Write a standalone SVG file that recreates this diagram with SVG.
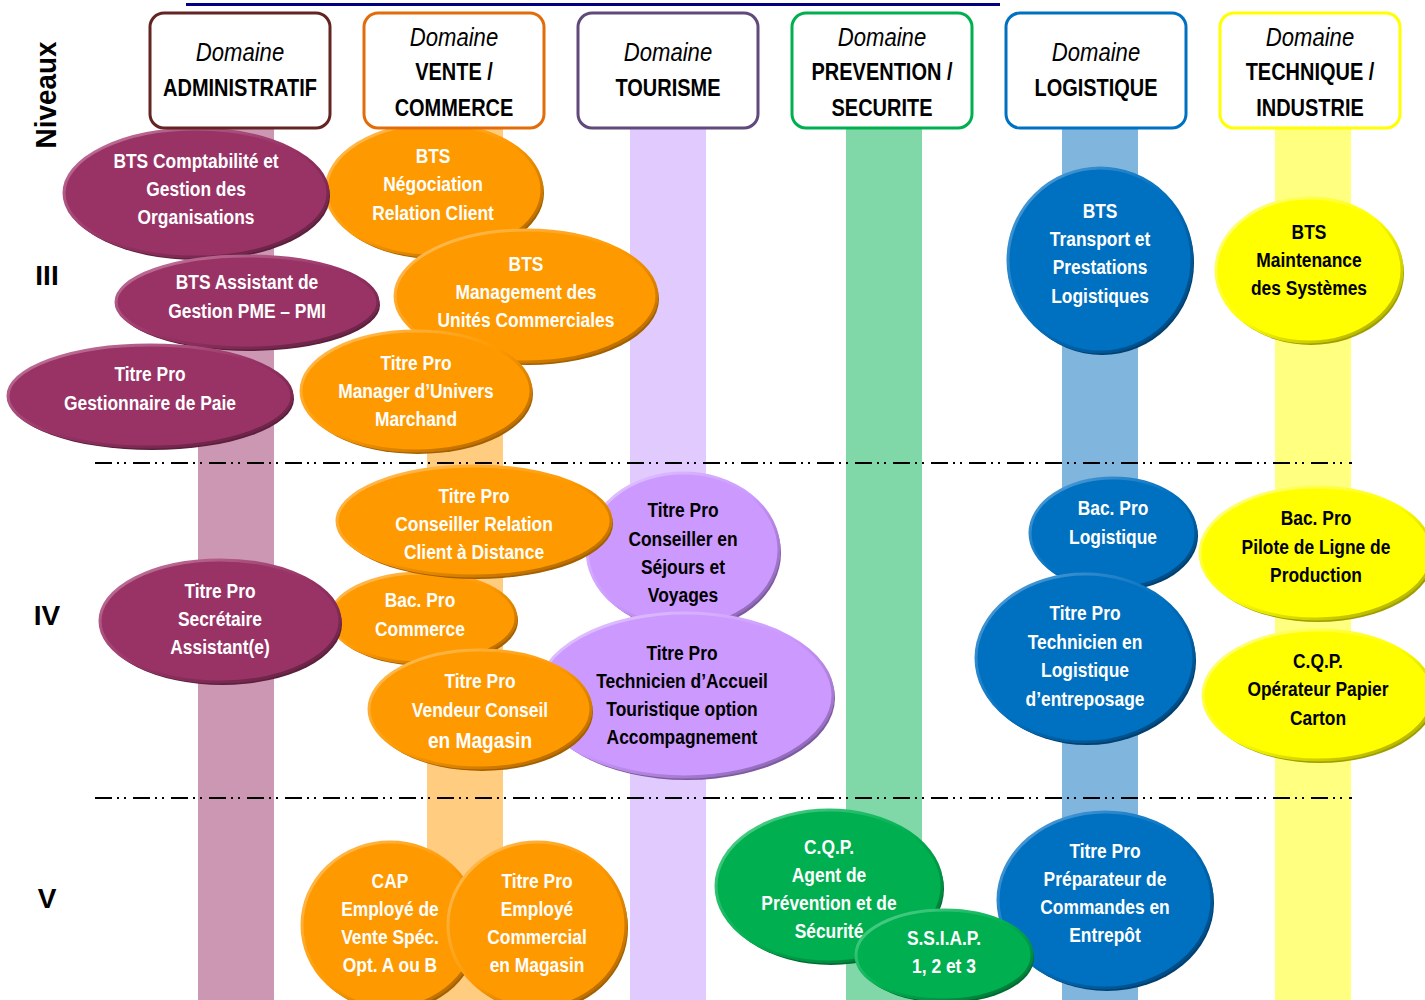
<svg xmlns="http://www.w3.org/2000/svg" width="1425" height="1000" viewBox="0 0 1425 1000">
<defs>
<style>
.n{font-family:"Liberation Sans Narrow","Liberation Sans",Arial,sans-serif;font-weight:bold;font-size:20px;text-anchor:middle;fill:#fff;transform-box:fill-box;transform-origin:center;transform:scaleX(0.87)}
.k{fill:#000}
.hd{font-family:"Liberation Sans",Arial,sans-serif;text-anchor:middle;fill:#000;transform-box:fill-box;transform-origin:center;transform:scaleX(0.85)}
.hi{font-style:italic;font-size:26px}
.hb{font-weight:bold;font-size:23.5px}
.lv{font-family:"Liberation Sans",Arial,sans-serif;font-weight:bold;font-size:28px;text-anchor:middle;fill:#000}
.box{fill:#fff;stroke-width:3}
.dl{stroke:#000;stroke-width:2;stroke-dasharray:17 5 2 5 2 7;fill:none}
.plum{fill:#993366;stroke:url(#gPlum);stroke-width:3}
.splum{fill:#5c1f3d}
.org{fill:#ff9900;stroke:url(#gOrg);stroke-width:3}
.sorg{fill:#a35f00}
.pur{fill:#cc99ff;stroke:url(#gPur);stroke-width:3}
.spur{fill:#7d5aa0}
.grn{fill:#00b050;stroke:url(#gGrn);stroke-width:3}
.sgrn{fill:#006b30}
.blu{fill:#0070c0;stroke:url(#gBlu);stroke-width:3}
.sblu{fill:#003f70}
.yel{fill:#ffff00;stroke:url(#gYel);stroke-width:3}
.syel{fill:#9e9e00}
</style>
<linearGradient id="gPlum" x1="0" y1="0" x2="1" y2="1"><stop offset="0" stop-color="#c77fa3"/><stop offset="0.5" stop-color="#993366"/><stop offset="1" stop-color="#5c1f3d"/></linearGradient>
<linearGradient id="gOrg" x1="0" y1="0" x2="1" y2="1"><stop offset="0" stop-color="#ffc266"/><stop offset="0.5" stop-color="#ff9900"/><stop offset="1" stop-color="#a35f00"/></linearGradient>
<linearGradient id="gPur" x1="0" y1="0" x2="1" y2="1"><stop offset="0" stop-color="#e3c9ff"/><stop offset="0.5" stop-color="#cc99ff"/><stop offset="1" stop-color="#7d5aa0"/></linearGradient>
<linearGradient id="gGrn" x1="0" y1="0" x2="1" y2="1"><stop offset="0" stop-color="#5fd394"/><stop offset="0.5" stop-color="#00b050"/><stop offset="1" stop-color="#006b30"/></linearGradient>
<linearGradient id="gBlu" x1="0" y1="0" x2="1" y2="1"><stop offset="0" stop-color="#5ea3da"/><stop offset="0.5" stop-color="#0070c0"/><stop offset="1" stop-color="#003f70"/></linearGradient>
<linearGradient id="gYel" x1="0" y1="0" x2="1" y2="1"><stop offset="0" stop-color="#ffff99"/><stop offset="0.5" stop-color="#ffff00"/><stop offset="1" stop-color="#9e9e00"/></linearGradient>
</defs>
<rect width="1425" height="1000" fill="#fff"/>
<line x1="186" y1="4.5" x2="1000" y2="4.5" stroke="#000080" stroke-width="3"/>

<g id="bands">
<rect x="198" y="128" width="76" height="872" fill="#cc97b3"/>
<rect x="427" y="128" width="76" height="872" fill="#ffcc80"/>
<rect x="630" y="128" width="76" height="872" fill="#e1cbfe"/>
<rect x="846" y="128" width="76" height="872" fill="#80d8a8"/>
<rect x="1062" y="128" width="76" height="872" fill="#80b6de"/>
<rect x="1275" y="128" width="76" height="872" fill="#ffff80"/>
</g>

<g id="levels">
<text class="lv" x="0" y="10" transform="translate(46 95) rotate(-90) scale(0.93 1)" style="font-size:30px">Niveaux</text>
<text class="lv" x="47" y="285">III</text>
<text class="lv" x="47" y="625">IV</text>
<text class="lv" x="47" y="908">V</text>
<line class="dl" x1="95" y1="463" x2="1352" y2="463"/>
<line class="dl" x1="95" y1="798" x2="1352" y2="798"/>
</g>

<g id="n-bts-nrc"><ellipse class="sorg" cx="436" cy="193" rx="108" ry="66"/><ellipse class="org" cx="434" cy="190" rx="108" ry="66"/>
<text class="n"><tspan x="433" y="163">BTS</tspan><tspan x="433" y="191">Négociation</tspan><tspan x="433" y="220">Relation Client</tspan></text></g>

<g id="n-bts-cgo"><ellipse class="splum" cx="198" cy="196" rx="132" ry="64"/><ellipse class="plum" cx="196" cy="193" rx="132" ry="64"/>
<text class="n"><tspan x="196" y="168">BTS Comptabilité et</tspan><tspan x="196" y="196">Gestion des</tspan><tspan x="196" y="224">Organisations</tspan></text></g>

<g id="n-bts-agpme"><ellipse class="splum" cx="249" cy="305" rx="131" ry="46"/><ellipse class="plum" cx="247" cy="302" rx="131" ry="46"/>
<text class="n"><tspan x="247" y="289">BTS Assistant de</tspan><tspan x="247" y="318">Gestion PME – PMI</tspan></text></g>

<g id="n-tp-paie"><ellipse class="splum" cx="152" cy="399" rx="142" ry="51"/><ellipse class="plum" cx="150" cy="396" rx="142" ry="51"/>
<text class="n"><tspan x="150" y="381">Titre Pro</tspan><tspan x="150" y="410">Gestionnaire de Paie</tspan></text></g>

<g id="n-bts-muc"><ellipse class="sorg" cx="528" cy="299" rx="131" ry="66"/><ellipse class="org" cx="526" cy="296" rx="131" ry="66"/>
<text class="n"><tspan x="526" y="271">BTS</tspan><tspan x="526" y="299">Management des</tspan><tspan x="526" y="327">Unités Commerciales</tspan></text></g>

<g id="n-tp-mum"><ellipse class="sorg" cx="418" cy="394" rx="115" ry="60"/><ellipse class="org" cx="416" cy="391" rx="115" ry="60"/>
<text class="n"><tspan x="416" y="370">Titre Pro</tspan><tspan x="416" y="398">Manager d’Univers</tspan><tspan x="416" y="426">Marchand</tspan></text></g>

<g id="n-tp-csv"><ellipse class="spur" cx="685" cy="553" rx="96" ry="77"/><ellipse class="pur" cx="683" cy="550" rx="96" ry="77"/>
<text class="n k"><tspan x="683" y="517">Titre Pro</tspan><tspan x="683" y="546">Conseiller en</tspan><tspan x="683" y="574">Séjours et</tspan><tspan x="683" y="602">Voyages</tspan></text></g>

<g id="n-tp-tat"><ellipse class="spur" cx="687" cy="698" rx="148" ry="82"/><ellipse class="pur" cx="685" cy="695" rx="148" ry="82"/>
<text class="n k"><tspan x="682" y="660">Titre Pro</tspan><tspan x="682" y="688">Technicien d’Accueil</tspan><tspan x="682" y="716">Touristique option</tspan><tspan x="682" y="744">Accompagnement</tspan></text></g>

<g id="n-bac-com"><ellipse class="sorg" cx="425" cy="621" rx="93" ry="45"/><ellipse class="org" cx="423" cy="618" rx="93" ry="45"/>
<text class="n"><tspan x="420" y="607">Bac. Pro</tspan><tspan x="420" y="636">Commerce</tspan></text></g>

<g id="n-tp-crcd"><ellipse class="sorg" cx="476" cy="524" rx="137" ry="55"/><ellipse class="org" cx="474" cy="521" rx="137" ry="55"/>
<text class="n"><tspan x="474" y="503">Titre Pro</tspan><tspan x="474" y="531">Conseiller Relation</tspan><tspan x="474" y="559">Client à Distance</tspan></text></g>

<g id="n-tp-vcm"><ellipse class="sorg" cx="482" cy="712" rx="111" ry="59"/><ellipse class="org" cx="480" cy="709" rx="111" ry="59"/>
<text class="n"><tspan x="480" y="688">Titre Pro</tspan><tspan x="480" y="717">Vendeur Conseil</tspan><tspan x="480" y="748" style="font-size:22px">en Magasin</tspan></text></g>

<g id="n-tp-sec"><ellipse class="splum" cx="222" cy="624" rx="120" ry="61"/><ellipse class="plum" cx="220" cy="621" rx="120" ry="61"/>
<text class="n"><tspan x="220" y="598">Titre Pro</tspan><tspan x="220" y="626">Secrétaire</tspan><tspan x="220" y="654">Assistant(e)</tspan></text></g>

<g id="n-cap-evs"><ellipse class="sorg" cx="392" cy="928" rx="88" ry="83"/><ellipse class="org" cx="390" cy="925" rx="88" ry="83"/>
<text class="n"><tspan x="390" y="888">CAP</tspan><tspan x="390" y="916">Employé de</tspan><tspan x="390" y="944">Vente Spéc.</tspan><tspan x="390" y="972">Opt. A ou B</tspan></text></g>

<g id="n-tp-ecm"><ellipse class="sorg" cx="539" cy="928" rx="89" ry="83"/><ellipse class="org" cx="537" cy="925" rx="89" ry="83"/>
<text class="n"><tspan x="537" y="888">Titre Pro</tspan><tspan x="537" y="916">Employé</tspan><tspan x="537" y="944">Commercial</tspan><tspan x="537" y="972">en Magasin</tspan></text></g>

<g id="n-cqp-aps"><ellipse class="sgrn" cx="831" cy="889" rx="113" ry="76"/><ellipse class="grn" cx="829" cy="886" rx="113" ry="76"/>
<text class="n"><tspan x="829" y="854">C.Q.P.</tspan><tspan x="829" y="882">Agent de</tspan><tspan x="829" y="910">Prévention et de</tspan><tspan x="829" y="938">Sécurité</tspan></text></g>

<g id="n-tp-pce"><ellipse class="sblu" cx="1107" cy="903" rx="107" ry="88"/><ellipse class="blu" cx="1105" cy="900" rx="107" ry="88"/>
<text class="n"><tspan x="1105" y="858">Titre Pro</tspan><tspan x="1105" y="886">Préparateur de</tspan><tspan x="1105" y="914">Commandes en</tspan><tspan x="1105" y="942">Entrepôt</tspan></text></g>

<g id="n-ssiap"><ellipse class="sgrn" cx="946" cy="958" rx="88" ry="45"/><ellipse class="grn" cx="944" cy="955" rx="88" ry="45"/>
<text class="n"><tspan x="944" y="945">S.S.I.A.P.</tspan><tspan x="944" y="973">1, 2 et 3</tspan></text></g>

<g id="n-bts-tpl"><ellipse class="sblu" cx="1102" cy="263" rx="92" ry="92"/><ellipse class="blu" cx="1100" cy="260" rx="92" ry="92"/>
<text class="n"><tspan x="1100" y="218">BTS</tspan><tspan x="1100" y="246">Transport et</tspan><tspan x="1100" y="274">Prestations</tspan><tspan x="1100" y="303">Logistiques</tspan></text></g>

<g id="n-bac-log"><ellipse class="sblu" cx="1115" cy="536" rx="83" ry="55"/><ellipse class="blu" cx="1113" cy="533" rx="83" ry="55"/>
<text class="n"><tspan x="1113" y="515">Bac. Pro</tspan><tspan x="1113" y="544">Logistique</tspan></text></g>

<g id="n-tp-tle"><ellipse class="sblu" cx="1087" cy="661" rx="109" ry="84"/><ellipse class="blu" cx="1085" cy="658" rx="109" ry="84"/>
<text class="n"><tspan x="1085" y="620">Titre Pro</tspan><tspan x="1085" y="649">Technicien en</tspan><tspan x="1085" y="677">Logistique</tspan><tspan x="1085" y="706">d’entreposage</tspan></text></g>

<g id="n-bts-ms"><ellipse class="syel" cx="1311" cy="273" rx="93" ry="72"/><ellipse class="yel" cx="1309" cy="270" rx="93" ry="72"/>
<text class="n k"><tspan x="1309" y="239">BTS</tspan><tspan x="1309" y="267">Maintenance</tspan><tspan x="1309" y="295">des Systèmes</tspan></text></g>

<g id="n-bac-plp"><ellipse class="syel" cx="1318" cy="556" rx="116" ry="66"/><ellipse class="yel" cx="1316" cy="553" rx="116" ry="66"/>
<text class="n k"><tspan x="1316" y="525">Bac. Pro</tspan><tspan x="1316" y="554">Pilote de Ligne de</tspan><tspan x="1316" y="582">Production</tspan></text></g>

<g id="n-cqp-opc"><ellipse class="syel" cx="1320" cy="698" rx="115" ry="65"/><ellipse class="yel" cx="1318" cy="695" rx="115" ry="65"/>
<text class="n k"><tspan x="1318" y="668">C.Q.P.</tspan><tspan x="1318" y="696">Opérateur Papier</tspan><tspan x="1318" y="725">Carton</tspan></text></g>

<g id="h-admin"><rect class="box" x="150" y="13" width="180" height="115" rx="14" stroke="#632523"/>
<text class="hd"><tspan class="hi" x="240" y="61">Domaine</tspan><tspan class="hb" x="240" y="96">ADMINISTRATIF</tspan></text></g>
<g id="h-vente"><rect class="box" x="364" y="13" width="180" height="115" rx="14" stroke="#e36c0a"/>
<text class="hd"><tspan class="hi" x="454" y="46">Domaine</tspan><tspan class="hb" x="454" y="80">VENTE /</tspan><tspan class="hb" x="454" y="116">COMMERCE</tspan></text></g>
<g id="h-tourisme"><rect class="box" x="578" y="13" width="180" height="115" rx="14" stroke="#604a7b"/>
<text class="hd"><tspan class="hi" x="668" y="61">Domaine</tspan><tspan class="hb" x="668" y="96">TOURISME</tspan></text></g>
<g id="h-prevention"><rect class="box" x="792" y="13" width="180" height="115" rx="14" stroke="#00b050"/>
<text class="hd"><tspan class="hi" x="882" y="46">Domaine</tspan><tspan class="hb" x="882" y="80">PREVENTION /</tspan><tspan class="hb" x="882" y="116">SECURITE</tspan></text></g>
<g id="h-logistique"><rect class="box" x="1006" y="13" width="180" height="115" rx="14" stroke="#0070c0"/>
<text class="hd"><tspan class="hi" x="1096" y="61">Domaine</tspan><tspan class="hb" x="1096" y="96">LOGISTIQUE</tspan></text></g>
<g id="h-technique"><rect class="box" x="1220" y="13" width="180" height="115" rx="14" stroke="#ffff00"/>
<text class="hd"><tspan class="hi" x="1310" y="46">Domaine</tspan><tspan class="hb" x="1310" y="80">TECHNIQUE /</tspan><tspan class="hb" x="1310" y="116">INDUSTRIE</tspan></text></g>
</svg>
